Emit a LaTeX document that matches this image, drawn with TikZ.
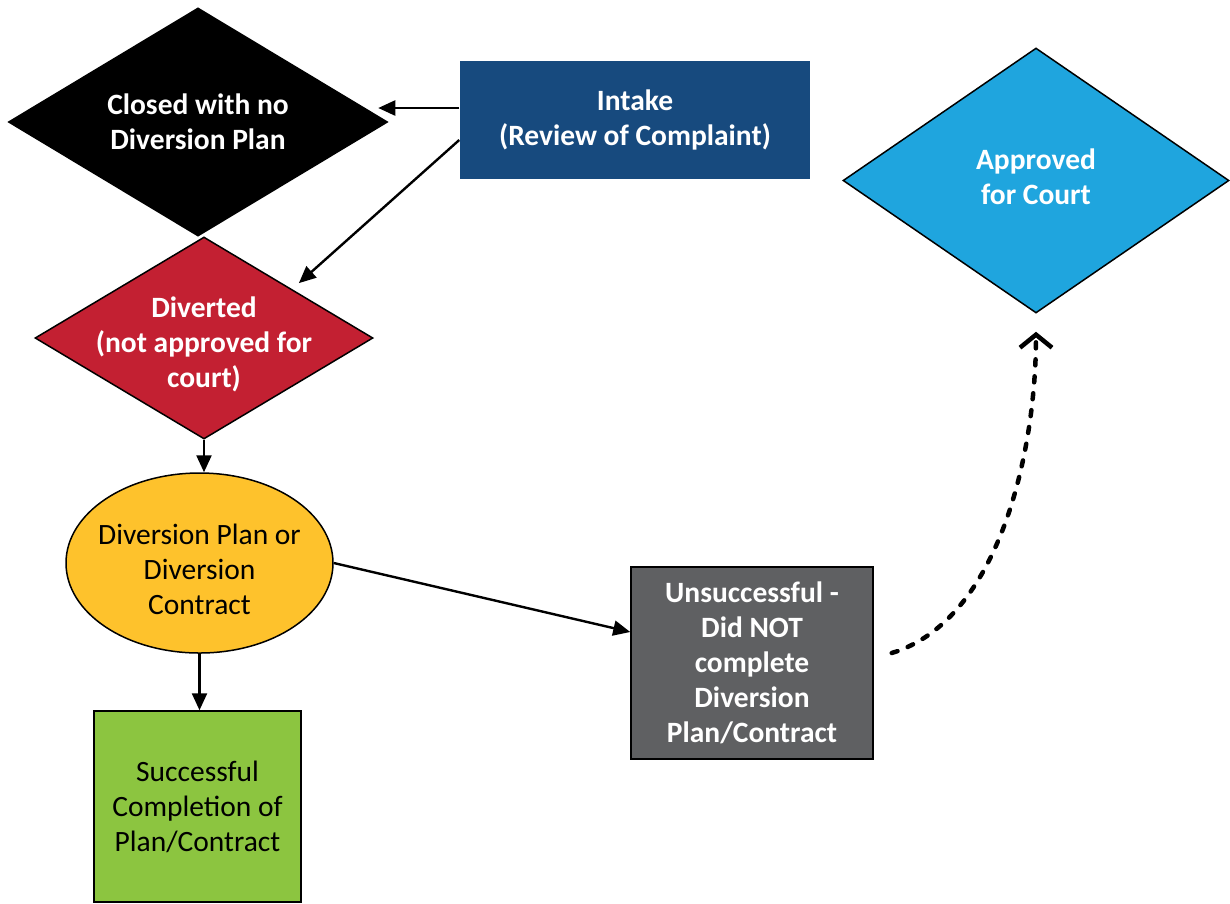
\documentclass[tikz,border=0pt]{standalone}
\usepackage{fontspec}
\setmainfont{Carlito}
\usetikzlibrary{shapes.geometric,arrows.meta}

\definecolor{intakeblue}{HTML}{174A7E}
\definecolor{divred}{HTML}{C32032}
\definecolor{planyellow}{HTML}{FEC22C}
\definecolor{okgreen}{HTML}{8CC540}
\definecolor{failgray}{HTML}{5F6062}
\definecolor{courtblue}{HTML}{1FA5DE}

\begin{document}
\begin{tikzpicture}[x=1pt,y=-1pt]
    \tikzstyle{box}=[inner sep=0pt,draw=black,line width=1.5pt]
    \tikzstyle{txt}=[align=center,font=\fontsize{29.5}{35}\selectfont]
    \tikzstyle{btxt}=[txt,text=white,font=\fontsize{29.5}{35}\selectfont\bfseries]
    \tikzstyle{arr}=[line width=2.4pt,-{Triangle[length=17pt,width=15pt]}]

    \useasboundingbox (0,0) rectangle (1230,903);

    \node (closed)[box,diamond,fill=black,minimum width=379pt,minimum height=228pt] at (198,122) {};
    \node (intake)[box,rectangle,draw=none,fill=intakeblue,minimum width=350pt,minimum height=118pt] at (635,120) {};
    \node (diverted)[box,diamond,fill=divred,minimum width=338pt,minimum height=202pt] at (204,338) {};
    \node (plan)[box,ellipse,fill=planyellow,minimum width=267pt,minimum height=180pt] at (199.5,563) {};
    \node (success)[box,rectangle,fill=okgreen,minimum width=207pt,minimum height=191pt] at (197.5,806.5) {};
    \node (fail)[box,rectangle,fill=failgray,minimum width=242pt,minimum height=192pt] at (752,663) {};
    \node (approved)[box,diamond,fill=courtblue,minimum width=386pt,minimum height=265pt] at (1036,180.5) {};

    \node (closed-t)[btxt] at (closed) {Closed with no\\Diversion Plan};
    \node (intake-t)[btxt] at (intake) {Intake\\(Review of Complaint)};
    \node (diverted-t)[btxt] at ([yshift=-6pt]diverted) {Diverted\\(not approved for\\court)};
    \node (plan-t)[txt] at ([yshift=-6pt]plan) {Diversion Plan or\\Diversion\\Contract};
    \node (success-t)[txt] at (success) {Successful\\Completion of\\Plan/Contract};
    \node (fail-t)[btxt] at (fail) {Unsuccessful -\\Did NOT\\complete\\Diversion\\Plan/Contract};
    \node (approved-t)[btxt] at ([yshift=4pt]approved) {Approved\\for Court};

    \draw[arr] ([yshift=12pt]intake.west) -- ([xshift=-10pt,yshift=14pt]closed.east);
    \draw[arr] ([yshift=-20pt]intake.west) -- ([xshift=10pt,yshift=4pt]diverted.north east);
    \draw[arr] (diverted.south) -- (diverted.south |- plan.north);
    \draw[arr] (plan.south) -- (plan.south |- success.north);
    \draw[arr] (plan.east) -- ([yshift=31pt]fail.west);

    % back to court
    \draw[line width=4.5pt,line cap=round,dash pattern=on 6pt off 11pt,
          -{Straight Barb[length=13pt,width=32pt,line width=4.5pt]}]
        ([xshift=18pt,yshift=10pt]fail.east) .. controls (1000,620) and (1036,450) .. ([yshift=-18pt]approved.south);
\end{tikzpicture}
\end{document}
